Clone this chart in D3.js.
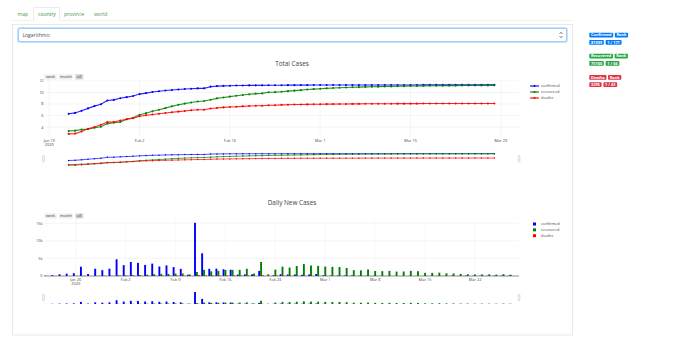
<!DOCTYPE html>
<html>
<head>
<meta charset="utf-8">
<script src="https://cdn.jsdelivr.net/npm/d3@7"></script>
<style>
body{margin:0;background:#fff;}
svg{display:block;font-family:"Open Sans",sans-serif;}
</style>
</head>
<body>
<svg id="page" width="690" height="344"></svg>
<script>
// data: China, Jan 22 - Mar 28 2020
var startDay = new Date(2020,0,22);
var confirmed = [548,643,920,1406,2075,2877,5509,6087,8141,9802,11891,16630,19716,23707,27440,30587,34110,36814,39829,42354,44386,44759,59895,66358,68413,70513,72434,74211,74619,75077,75550,77001,77022,77241,77754,78166,78600,78928,79356,79932,80136,80261,80386,80537,80690,80770,80823,80860,80887,80921,80932,80945,80977,81003,81033,81058,81102,81156,81250,81305,81435,81498,81591,81661,81782,81897,81999];
var recovered = [28,30,36,39,49,58,101,120,135,214,275,463,614,843,1115,1476,1998,2595,3218,3917,4635,5079,6213,7973,9294,10748,12455,14199,15952,18002,18693,22687,23170,24990,27650,30053,32898,36291,39279,42162,44854,47450,50001,52292,53944,55539,57388,58804,60181,61644,62901,64196,65660,67017,67910,68798,69755,70535,71266,71857,72362,72814,73280,73773,74181,74720,75100];
var deaths = [17,18,26,42,56,82,131,133,171,213,259,361,425,490,562,632,717,804,904,1011,1111,1116,1368,1520,1662,1765,1863,2002,2114,2236,2236,2441,2443,2593,2663,2715,2744,2788,2835,2870,2912,2945,2981,3013,3042,3070,3097,3119,3136,3158,3169,3176,3189,3199,3213,3226,3237,3245,3248,3255,3261,3270,3277,3281,3287,3292,3295];

var newConfirmed = [null,95,277,486,669,802,2632,578,2054,1661,2089,4739,3086,3991,3733,3147,3523,2704,3015,2525,2032,373,15136,6463,2055,2100,1921,1777,408,458,473,1451,21,219,513,412,434,328,428,576,204,125,125,151,153,80,53,37,27,34,11,13,32,26,30,25,44,54,94,55,130,63,93,70,121,115,102];
var newRecovered = [null,2,6,3,10,9,43,19,15,79,61,188,151,229,272,361,522,597,623,699,718,444,1134,1760,1321,1454,1707,1744,1753,2050,691,3994,483,1820,2660,2403,2845,3393,2988,2883,2692,2596,2551,2291,1652,1595,1849,1416,1377,1463,1257,1295,1464,1357,893,888,957,780,731,591,505,452,466,493,408,539,380];
var newDeaths = [null,1,8,16,14,26,49,2,38,42,46,102,64,65,72,70,85,87,100,107,100,5,252,152,142,103,98,139,112,122,0,205,2,150,70,52,29,44,47,35,42,33,36,32,29,28,27,22,17,22,11,7,13,10,14,13,11,8,3,7,6,9,7,4,6,5,3];

var seriesNames = ["confirmed","recovered","deaths"];
var seriesColors = ["blue","green","red"];
var tabs = ["map","country","province","world"];
var rangeButtons = ["week","month","all"];
var logTicks = [4,6,8,10,12];
var dailyTicks = [0,5000,10000,15000];
var badgeHeads = [["Confirmed","Rank"],["Recovered","Rank"],["Deaths","Rank"]];
var badgeValues = [["81999","1 / 177"],["75100","1 / 66"],["3295","1 / 43"]];
var badgeColors = ["#007bff","#28a745","#dc3545"];

var dates = confirmed.map(function(d,i){ return d3.timeDay.offset(startDay,i); });
var totals = [confirmed,recovered,deaths];
var dailies = [newConfirmed,newRecovered,newDeaths];

var svg = d3.select("#page");
var grey = "#444";

// ---- tabs, select and card ----
svg.append("line").attr("x1",12).attr("x2",572).attr("y1",20.5).attr("y2",20.5)
  .attr("stroke","#e6e6e6").attr("stroke-width",0.6);
var tabX = [17.5,38,64,94];
svg.append("path").attr("d","M33.5,20.5V7.5H59.5V20.5")
  .attr("fill","#fff").attr("stroke","#dedede").attr("stroke-width",0.6);
svg.append("line").attr("x1",33.8).attr("x2",59.2).attr("y1",20.5).attr("y2",20.5)
  .attr("stroke","#fff").attr("stroke-width",1);
svg.selectAll(".tab").data(tabs).enter().append("text")
  .attr("x",function(d,i){ return tabX[i]; }).attr("y",16)
  .attr("font-size",5).attr("fill",function(d,i){ return i==1 ? "#3d8b3d" : "#4a9a4a"; })
  .text(function(d){ return d; });

svg.append("rect").attr("x",12.5).attr("y",24.5).attr("width",560).attr("height",310.5)
  .attr("fill","none").attr("stroke","#e4e4e4").attr("stroke-width",0.8);

svg.append("rect").attr("x",18).attr("y",28).attr("width",549).attr("height",14).attr("rx",2)
  .attr("fill","none").attr("stroke","rgba(0,123,255,0.22)").attr("stroke-width",2);
svg.append("rect").attr("x",18.5).attr("y",28.5).attr("width",548).attr("height",13).attr("rx",1.5)
  .attr("fill","#fff").attr("stroke","#80bdff").attr("stroke-width",0.7);
svg.append("text").attr("x",22.5).attr("y",36.8).attr("font-size",5).attr("fill","#495057").text("Logarithmic");
svg.append("path").attr("d","M559.5,34 L561,32.2 L562.5,34 M559.5,36 L561,37.8 L562.5,36")
  .attr("fill","none").attr("stroke","#343a40").attr("stroke-width",0.6);

// ---- badges ----
function badge(x,y,label,color){
  var g = svg.append("g");
  var t = g.append("text").attr("x",x+1.7).attr("y",y+3.5).attr("font-size",3.9)
    .attr("font-weight","bold").attr("fill","#fff").text(label);
  var w = t.node().getComputedTextLength()+3.4;
  g.insert("rect","text").attr("x",x).attr("y",y).attr("width",w).attr("height",4.7)
    .attr("rx",0.8).attr("fill",color);
  return x+w;
}
var badgeY = [32.7,53.7,75];
badgeHeads.forEach(function(h,i){
  var nx = badge(589.3,badgeY[i],h[0],badgeColors[i]);
  badge(nx+1.6,badgeY[i],h[1],badgeColors[i]);
  nx = badge(589.3,badgeY[i]+7.3,badgeValues[i][0],badgeColors[i]);
  badge(nx+1.8,badgeY[i]+7.3,badgeValues[i][1],badgeColors[i]);
});

// ---- shared bits ----
var fmt = d3.timeFormat("%b %-d");
function buttons(y){
  var bx = [44.3,59,75.3], bw = [12.4,13.7,8];
  rangeButtons.forEach(function(b,i){
    svg.append("rect").attr("x",bx[i]).attr("y",y).attr("width",bw[i]).attr("height",5.2)
      .attr("rx",0.6).attr("fill",i==2 ? "#d4d4d4" : "#eee");
    svg.append("text").attr("x",bx[i]+bw[i]/2).attr("y",y+3.7).attr("text-anchor","middle")
      .attr("font-size",3.8).attr("fill",grey).text(b);
  });
}
function grips(y){
  [42.6,518.2].forEach(function(x){
    svg.append("rect").attr("x",x).attr("y",y).attr("width",1.8).attr("height",6.5).attr("rx",0.5)
      .attr("fill","#f2f2f2").attr("stroke","#bbb").attr("stroke-width",0.4);
  });
}
function xLabels(scale,ticks,y){
  ticks.forEach(function(t,i){
    svg.append("text").attr("x",scale(t)).attr("y",y).attr("text-anchor","middle")
      .attr("font-size",3.9).attr("fill",grey).text(fmt(t));
    if(i==0) svg.append("text").attr("x",scale(t)).attr("y",y+4.3).attr("text-anchor","middle")
      .attr("font-size",3.9).attr("fill",grey).text("2020");
  });
}

// ---- Total Cases ----
var x1 = d3.scaleTime().domain([new Date(2020,0,19), new Date(2020,2,29)]).range([49.3,500.8]);
var y1 = d3.scaleLinear().domain([2.3,12.5]).range([137,78]);
var ys1 = d3.scaleLinear().domain([2.3,12.5]).range([166,152]);
var totalTicks = d3.timeDay.range(new Date(2020,0,19), new Date(2020,2,30), 14);

svg.append("text").attr("x",292).attr("y",66).attr("text-anchor","middle")
  .attr("font-size",6.4).attr("fill",grey).text("Total Cases");
buttons(74.2);

svg.selectAll(".gy1").data(logTicks).enter().append("line")
  .attr("x1",45).attr("x2",519).attr("y1",function(d){ return y1(d); }).attr("y2",function(d){ return y1(d); })
  .attr("stroke","#eee").attr("stroke-width",0.6);
svg.selectAll(".gx1").data(totalTicks).enter().append("line")
  .attr("x1",function(d){ return x1(d); }).attr("x2",function(d){ return x1(d); })
  .attr("y1",78).attr("y2",137).attr("stroke","#eee").attr("stroke-width",0.6);
svg.selectAll(".ty1").data(logTicks).enter().append("text")
  .attr("x",43.6).attr("y",function(d){ return y1(d)+1.4; }).attr("text-anchor","end")
  .attr("font-size",3.9).attr("fill",grey).text(function(d){ return d; });
xLabels(x1,totalTicks,142);

function drawLines(ys,w,r){
  totals.forEach(function(s,k){
    var pts = s.map(function(v,i){ return [x1(dates[i]), ys(Math.log(v))]; });
    svg.append("path").attr("d",d3.line()(pts)).attr("fill","none")
      .attr("stroke",seriesColors[k]).attr("stroke-width",w).attr("stroke-opacity",0.85);
    svg.append("g").selectAll("circle").data(pts).enter().append("circle")
      .attr("cx",function(d){ return d[0]; }).attr("cy",function(d){ return d[1]; })
      .attr("r",r).attr("fill",seriesColors[k]);
  });
}
drawLines(y1,1.1,1.05);
drawLines(ys1,0.8,0.75);
grips(155.5);

seriesNames.forEach(function(n,k){
  var ly = 86+6*k;
  svg.append("line").attr("x1",530).attr("x2",539).attr("y1",ly).attr("y2",ly)
    .attr("stroke",seriesColors[k]).attr("stroke-width",1.1);
  svg.append("circle").attr("cx",534.5).attr("cy",ly).attr("r",1.05).attr("fill",seriesColors[k]);
  svg.append("text").attr("x",541).attr("y",ly+1.4).attr("font-size",3.9).attr("fill",grey).text(n);
});

// ---- Daily New Cases ----
var x2 = d3.scaleTime().domain([new Date(2020,0,26), new Date(2020,2,22)]).range([75.7,475]);
var y2 = d3.scaleLinear().domain([0,15900]).range([276,220.1]);
var ys2 = d3.scaleLinear().domain([0,15900]).range([304,291.4]);
var dailyDates = d3.timeDay.range(new Date(2020,0,26), new Date(2020,2,23), 7);
var bw = (x2(new Date(2020,0,27))-x2(new Date(2020,0,26)))*0.8/3;

svg.append("text").attr("x",292).attr("y",204.5).attr("text-anchor","middle")
  .attr("font-size",6.4).attr("fill",grey).text("Daily New Cases");
buttons(213.4);

svg.selectAll(".gy2").data(dailyTicks.slice(1)).enter().append("line")
  .attr("x1",44).attr("x2",519).attr("y1",function(d){ return y2(d); }).attr("y2",function(d){ return y2(d); })
  .attr("stroke","#eee").attr("stroke-width",0.6);
svg.selectAll(".gx2").data(dailyDates).enter().append("line")
  .attr("x1",function(d){ return x2(d); }).attr("x2",function(d){ return x2(d); })
  .attr("y1",220).attr("y2",276).attr("stroke","#f3f3f3").attr("stroke-width",0.6);
svg.selectAll(".ty2").data(dailyTicks).enter().append("text")
  .attr("x",42.6).attr("y",function(d){ return y2(d)+1.4; }).attr("text-anchor","end")
  .attr("font-size",3.9).attr("fill",grey).text(function(d){ return d==0 ? "0" : (d/1000)+"k"; });
xLabels(x2,dailyDates,281);

function drawBars(ys){
  dailies.forEach(function(s,k){
    svg.append("g").selectAll("rect").data(s).enter().filter(function(d){ return d!=null; }).append("rect")
      .attr("x",function(d,i){ return x2(dates[i])+(k-1)*bw-bw/2; })
      .attr("width",bw)
      .attr("y",function(d){ return ys(d); })
      .attr("height",function(d){ return ys(0)-ys(d); })
      .attr("fill",seriesColors[k]);
  });
}
drawBars(y2);
svg.append("line").attr("x1",44).attr("x2",519).attr("y1",276).attr("y2",276)
  .attr("stroke",grey).attr("stroke-width",0.6);
drawBars(ys2);
grips(294.3);

seriesNames.forEach(function(n,k){
  var ly = 224+5.85*k;
  svg.append("rect").attr("x",533).attr("y",ly-1.5).attr("width",3).attr("height",3).attr("fill",seriesColors[k]);
  svg.append("text").attr("x",541).attr("y",ly+1.4).attr("font-size",3.9).attr("fill",grey).text(n);
});
</script>
</body>
</html>
